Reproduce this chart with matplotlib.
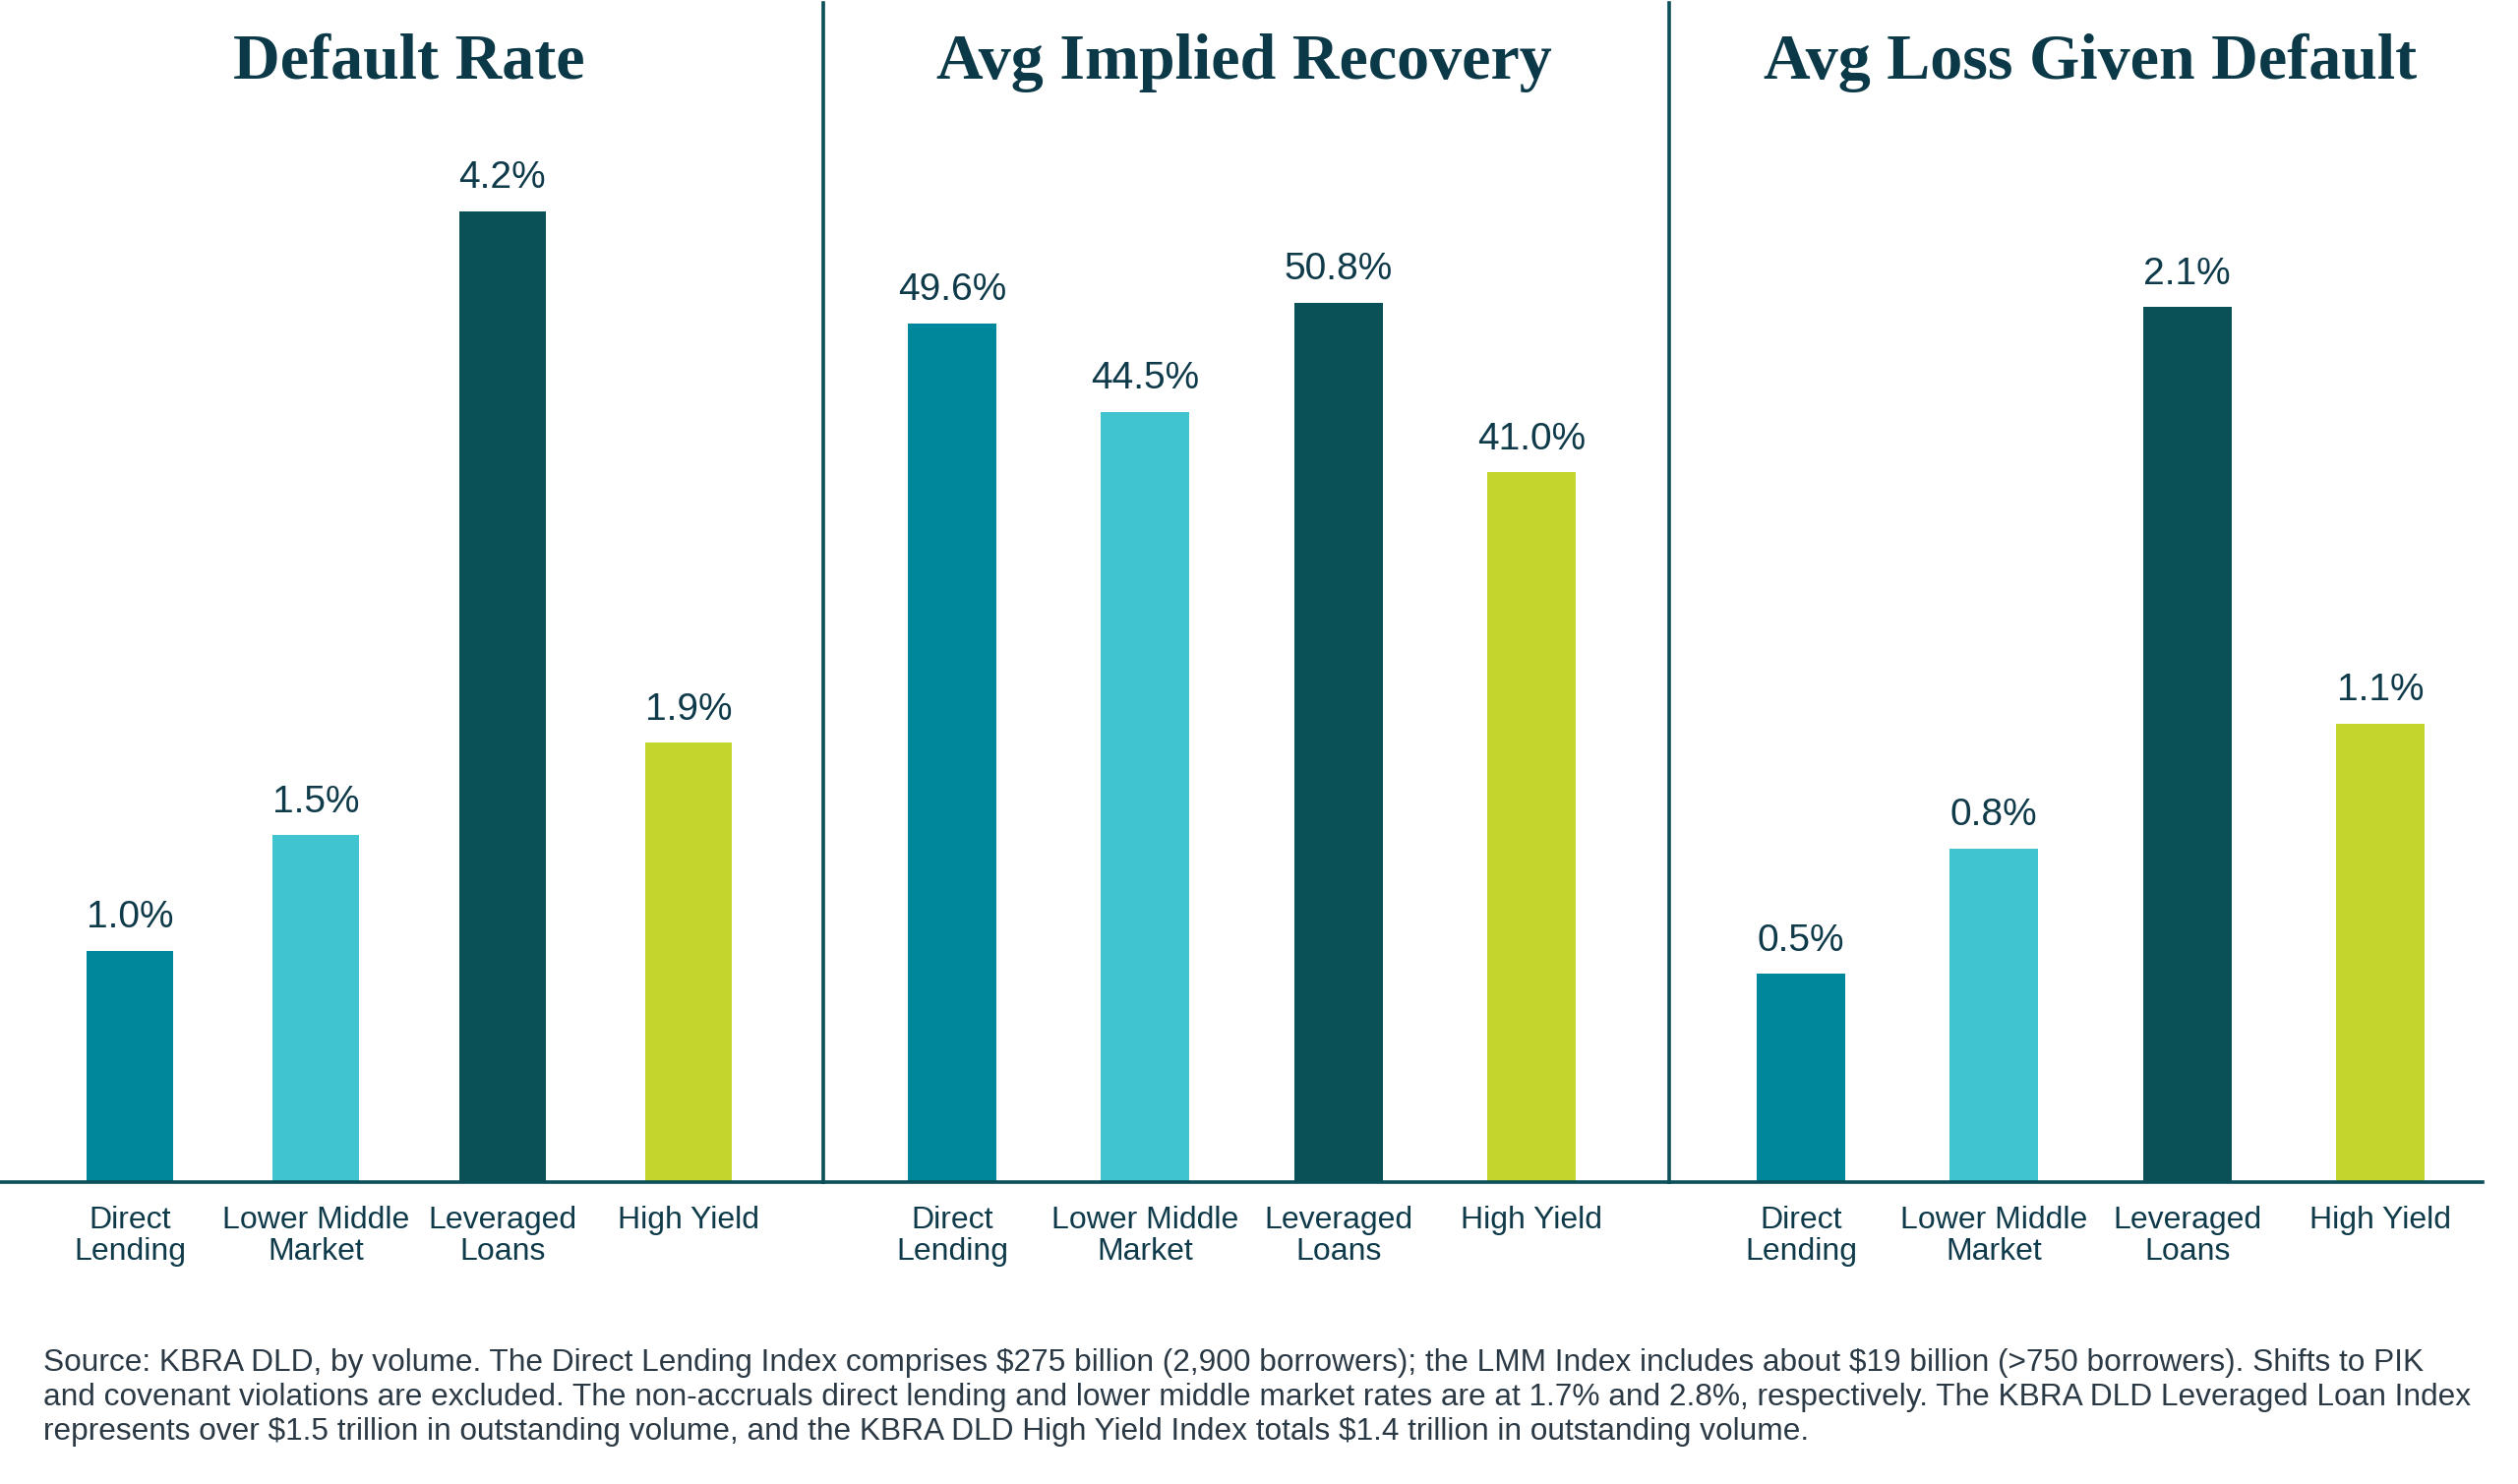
import numpy as np
import matplotlib.pyplot as plt

# ------------------------------
# Datos
# ------------------------------
categorias = ["Direct\nLending", "Lower Middle\nMarket", "Leveraged\nLoans", "High Yield"]
titulos = ["Default Rate", "Avg Implied Recovery", "Avg Loss Given Default"]

default_rate = [1.0, 1.5, 4.2, 1.9]
implied_recovery = [49.6, 44.5, 50.8, 41.0]
loss_given_default = [0.5, 0.8, 2.1, 1.1]

nota = ("Source: KBRA DLD, by volume. The Direct Lending Index comprises \\$275 billion (2,900 borrowers); "
        "the LMM Index includes about \\$19 billion (>750 borrowers). Shifts to PIK\n"
        "and covenant violations are excluded. The non-accruals direct lending and lower middle market rates "
        "are at 1.7% and 2.8%, respectively. The KBRA DLD Leveraged Loan Index\n"
        "represents over \\$1.5 trillion in outstanding volume, and the KBRA DLD High Yield Index totals "
        "\\$1.4 trillion in outstanding volume.")

# ------------------------------
# Estilo
# ------------------------------
colores = ["#00879c", "#40c4d0", "#0a5057", "#c3d62e"]
c_texto = "#0e3a4a"
c_linea = "#0b4f58"
plt.rcParams['font.family'] = ['Liberation Sans', 'DejaVu Sans']

W, H = 2560, 1509
fig = plt.figure(figsize=(W/100, H/100), dpi=100)

# posiciones en pixeles: (izq, der, centro primera barra, paso, ancho barra, ymax, centro titulo)
paneles = [
    (0,    837,  132,  189.3, 88, 5.10, 416),
    (837,  1697, 968,  196.3, 90, 68.1, 1265),
    (1697, 2524, 1831, 196.3, 90, 2.83, 2125),
]
valores = [default_rate, implied_recovery, loss_given_default]
y_base = 1202
y_top = 3

for i, (x0, x1, c0, paso, ancho, ymax, xt) in enumerate(paneles):
    ax = fig.add_axes([x0/W, 1 - y_base/H, (x1 - x0)/W, (y_base - y_top)/H])
    x = np.arange(len(categorias))
    bars = ax.bar(x, valores[i], width=ancho/paso, color=colores, zorder=2)
    ax.set_xlim(-(c0 - x0)/paso, (x1 - c0)/paso)
    ax.set_ylim(0, ymax)

    for b, v in zip(bars, valores[i]):
        ax.annotate(f"{v:.1f}%", (b.get_x() + b.get_width()/2, v),
                    xytext=(0, 17), textcoords="offset points",
                    ha="center", va="baseline", fontsize=28, color=c_texto)

    ax.set_xticks(x)
    ax.set_xticklabels(categorias, fontsize=23, color=c_texto, linespacing=1.1)
    ax.tick_params(axis="x", length=0, pad=17)
    ax.set_yticks([])

    for s in ["top", "right"]:
        ax.spines[s].set_visible(False)
    ax.spines["bottom"].set_color(c_linea)
    ax.spines["bottom"].set_linewidth(2.6)
    if i == 0:
        ax.spines["left"].set_visible(False)
    else:
        ax.spines["left"].set_color(c_linea)
        ax.spines["left"].set_linewidth(2.6)
    ax.patch.set_alpha(0)

    fig.text(xt/W, 1 - 80/H, titulos[i], ha="center", va="baseline",
             fontsize=47.5, fontweight="bold", color="#0b3948",
             family=["Liberation Serif", "DejaVu Serif"])

# nota al pie (va='baseline' alinea la ultima linea)
fig.text(44/W, 1 - 1464/H, nota, ha="left", va="baseline",
         fontsize=22.8, color="#2b3945", linespacing=1.22)

plt.savefig("out.png", dpi=100)
